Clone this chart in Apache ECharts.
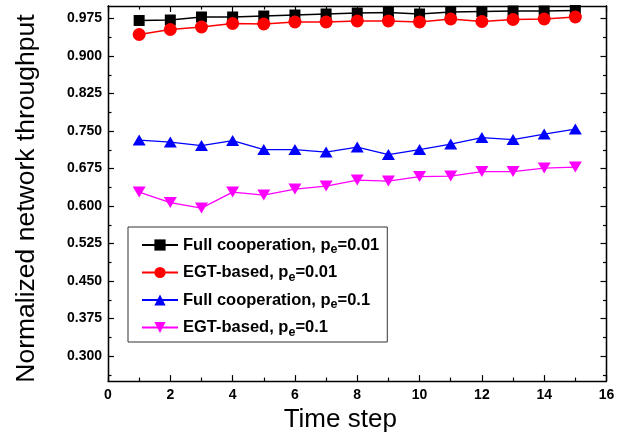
<!DOCTYPE html>
<html>
<head>
<meta charset="utf-8">
<script src="https://cdn.jsdelivr.net/npm/echarts@6/dist/echarts.min.js"></script>
<style>
html,body{margin:0;padding:0;background:#fff;}
#chart{width:633px;height:438px;}
</style>
</head>
<body>
<div id="chart"></div>
<script>
var timeSteps = [1,2,3,4,5,6,7,8,9,10,11,12,13,14,15];
var fullCoop001 = [0.971,0.972,0.978,0.978,0.980,0.982,0.984,0.986,0.987,0.984,0.988,0.989,0.990,0.990,0.991];
var egt001 = [0.943,0.953,0.958,0.965,0.964,0.968,0.968,0.970,0.970,0.968,0.974,0.969,0.973,0.974,0.978];
var fullCoop01 = [0.732,0.728,0.721,0.731,0.713,0.713,0.708,0.718,0.703,0.713,0.724,0.737,0.733,0.744,0.754];
var egt01 = [0.628,0.607,0.596,0.628,0.622,0.634,0.640,0.652,0.650,0.659,0.660,0.669,0.669,0.676,0.678];
var seriesNames = ['Full cooperation, p_e=0.01','EGT-based, p_e=0.01','Full cooperation, p_e=0.1','EGT-based, p_e=0.1'];
var yMajorTicks = [0.300,0.375,0.450,0.525,0.600,0.675,0.750,0.825,0.900,0.975];
var yMinorTicks = [0.2625,0.3375,0.4125,0.4875,0.5625,0.6375,0.7125,0.7875,0.8625,0.9375];

function pairs(vals){ return timeSteps.map(function(t,i){ return [t, vals[i]]; }); }

var FONT = "'Liberation Sans', Arial, sans-serif";
var chart = echarts.init(document.getElementById('chart'));

function yAx(pos, ticks, len, showLabel, extra){
  var a = {
    type:'value', position:pos, min:0.25, max:1.0,
    axisLine:{show:true, lineStyle:{color:'#000', width:1.3}},
    axisTick:{show:true, inside:true, length:len, customValues:ticks, lineStyle:{color:'#000', width:1.2}},
    axisLabel:{show:showLabel, customValues:yMajorTicks, margin:6, color:'#000', fontSize:14, fontWeight:'bold', fontFamily:FONT,
      formatter:function(v){ return v.toFixed(3); }},
    splitLine:{show:false}
  };
  if (extra) for (var k in extra) a[k]=extra[k];
  return a;
}
function xAx(pos, showLabel, extra){
  var a = {
    type:'value', position:pos, min:0, max:16, interval:2,
    axisLine:{show:true, onZero:false, lineStyle:{color:'#000', width:1.3}},
    axisTick:{show:true, inside:true, length:6, lineStyle:{color:'#000', width:1.2}},
    minorTick:{show:true, splitNumber:2, length:3.5, lineStyle:{color:'#000', width:1.2}},
    axisLabel:{show:showLabel, margin:7, color:'#000', fontSize:14, fontWeight:'bold', fontFamily:FONT},
    splitLine:{show:false}, minorSplitLine:{show:false}
  };
  if (extra) for (var k in extra) a[k]=extra[k];
  return a;
}

var colors = ['#000000','#ff0000','#0000ff','#ff00ff'];
var symbols = ['rect','circle','triangle','triangle'];
var sizes = [11,13,[13,11],[13,11]];
var rots = [0,0,0,180];
var datasets = [fullCoop001, egt001, fullCoop01, egt01];

var series = datasets.map(function(d,i){
  return {
    name: seriesNames[i], type:'line', data: pairs(d),
    xAxisIndex:0, yAxisIndex:0,
    symbol: symbols[i], symbolSize: sizes[i], symbolRotate: rots[i],
    itemStyle:{color:colors[i]},
    lineStyle:{color:colors[i], width:1.3},
    emphasis:{disabled:true}, animation:false
  };
});

chart.setOption({
  animation:false,
  grid:{left:108, right:26.5, top:6, bottom:54.5, containLabel:false},
  legend:{
    orient:'vertical', left:128, top:227,
    padding:[8,8,3,13], itemGap:6, itemWidth:36, itemHeight:14,
    borderColor:'#333', borderWidth:1, backgroundColor:'#fff',
    data: seriesNames,
    formatter:function(n){ return n.replace('p_e','p{s|e}'); },
    textStyle:{color:'#000', fontSize:16.5, fontWeight:'bold', fontFamily:FONT, lineHeight:20,
      rich:{s:{fontSize:12.5, fontWeight:'bold', fontFamily:FONT, color:'#000', padding:[10,0,0,0]}}}
  },
  xAxis:[
    xAx('bottom', true, {name:'Time step', nameLocation:'middle', nameGap:24,
      nameTextStyle:{fontSize:26, color:'#000', fontFamily:FONT, padding:[0,34,0,0]}}),
    xAx('top', false)
  ],
  yAxis:[
    yAx('left', yMajorTicks, 6, true, {name:'Normalized network throughput', nameLocation:'middle', nameGap:68,
      nameTextStyle:{fontSize:26.5, color:'#000', fontFamily:FONT, padding:[0,10,0,0]}}),
    yAx('left', yMinorTicks, 3.5, false),
    yAx('right', yMajorTicks, 6, false),
    yAx('right', yMinorTicks, 3.5, false)
  ],
  series: series
});
</script>
</body>
</html>
